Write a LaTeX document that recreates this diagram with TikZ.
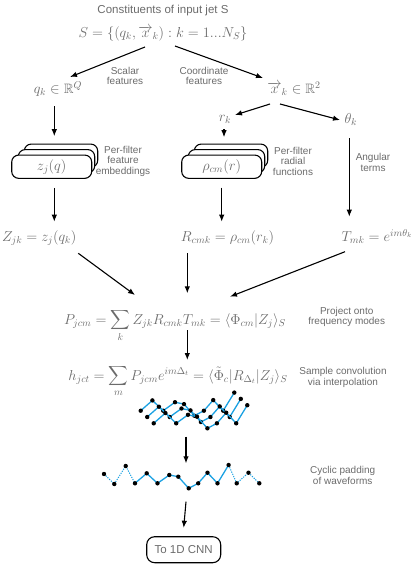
\documentclass[tikz,border=0pt]{standalone}
\usepackage{amsmath,amssymb}
\usepackage{fontspec}
\setmainfont{Liberation Sans}
\usetikzlibrary{arrows.meta,positioning}
\definecolor{labelgray}{gray}{0.42}
\definecolor{waveblue}{RGB}{27,161,226}
\tikzset{
  arr/.style={-{Latex[length=7pt,width=5.5pt]}, line width=1.1pt},
  lbl/.style={text=labelgray, font=\fontsize{10}{10.5}\selectfont, align=center, inner sep=1pt},
  eq/.style={text=labelgray, font=\fontsize{13.6}{15}\selectfont, anchor=base, inner sep=1pt},
  wave/.style={waveblue, line width=1.3pt, line join=round},
  pad wave/.style={waveblue, line width=1pt, dash pattern=on 1.2pt off 1.2pt},
}

\begin{document}
\begin{tikzpicture}[
  x=1pt, y=-1pt,
  filterbox/.style={draw, line width=1.1pt, rounded corners=7pt, fill=white,
    minimum height=23.3pt, inner sep=0pt},
  >=Latex
]
  \useasboundingbox (0,0) rectangle (415,568);

  % Input jet
  \node[lbl, font=\fontsize{11.5}{12}\selectfont] (title) at (163,11) {Constituents of input jet S};
  \node[eq] (seq) at (163,37.7) {$S=\{(q_k,\overrightarrow{x}_k):k=1...N_S\}$};

  % Features
  \node[eq] (qk) at (58,93.3) {$q_k\in\mathbb{R}^Q$};
  \node[eq] (xk) at (294,93.3) {$\overrightarrow{x}_k\in\mathbb{R}^2$};
  \node[lbl] (scalar) at (125,76) {Scalar\\features};
  \node[lbl] (coord) at (204,76) {Coordinate\\features};
  \node[eq] (rk) at (225,121.7) {$r_k$};
  \node[eq] (thk) at (350.8,123.3) {$\theta_k$};

  % Filter stacks
  \node[filterbox, minimum width=73.4pt] (zb3) at (61,155.7) {};
  \node[filterbox, minimum width=76.4pt] (zb2) at (56.5,161.2) {};
  \node[filterbox, minimum width=80pt, eq, anchor=center, inner sep=0pt] (zb) at (51.7,166.7) {$z_j(q)$};
  \node[lbl] (embed) at (123,161) {Per-filter\\feature\\embeddings};
  \node[filterbox, minimum width=73.4pt] (rb3) at (231,155.7) {};
  \node[filterbox, minimum width=76.4pt] (rb2) at (226.5,161.2) {};
  \node[filterbox, minimum width=80pt, eq, anchor=center, inner sep=0pt] (rb) at (221.7,166.7) {$\rho_{cm}(r)$};
  \node[lbl] (radial) at (293,161) {Per-filter\\radial\\functions};
  \node[lbl] (angular) at (373,162.5) {Angular\\terms};

  % Per-constituent terms
  \node[eq] (Z) at (39.2,241.7) {$Z_{jk}=z_j(q_k)$};
  \node[eq] (R) at (227.5,241.7) {$R_{cmk}=\rho_{cm}(r_k)$};
  \node[eq] (T) at (377,241.7) {$T_{mk}=e^{im\theta_k}$};

  % Projection and convolution
  \node[eq] (P) at (175,324) {$\displaystyle P_{jcm}=\sum_k Z_{jk}R_{cmk}T_{mk}=\langle\Phi_{cm}|Z_j\rangle_S$};
  \node[lbl] (project) at (346.7,317) {Project onto\\frequency modes};
  \node[eq] (h) at (178,380) {$\displaystyle h_{jct}=\sum_m P_{jcm}e^{im\Delta_t}=\langle\tilde{\Phi}_c|R_{\Delta_t}|Z_j\rangle_S$};
  \node[lbl] (sample) at (343,377.5) {Sample convolution\\via interpolation};
  \node[lbl] (cyclic) at (342.7,475.5) {Cyclic padding\\of waveforms};

  % Output
  \node[draw, line width=1.1pt, rounded corners=8pt, minimum width=74pt, minimum height=26pt,
    text=labelgray, font=\fontsize{11.5}{12}\selectfont] (cnn) at (183.7,549.7) {To 1D CNN};

  % Stacked waveforms
  \foreach \ox/\oy in {140.7/410.7, 147.2/417, 153.7/423.3}{
    \begin{scope}[shift={(\ox,\oy)}]
      \draw[wave] (0,0) -- (11.7,-10.3) -- (22.5,0) -- (34.3,-8.5) -- (43.3,-6.6)
        -- (53.7,5) -- (63.2,0) -- (72.5,-10.6) -- (82.5,0) -- (93.6,-18.1);
      \foreach \dx/\dy in {0/0, 11.7/-10.3, 22.5/0, 34.3/-8.5, 43.3/-6.6,
          53.7/5, 63.2/0, 72.5/-10.6, 82.5/0, 93.6/-18.1}
        \fill (\dx,\dy) circle (2.2pt);
    \end{scope}
  }

  % Padded waveform
  \draw[pad wave] (104,474) -- (114.3,484) -- (125.7,466) -- (135,483.3);
  \draw[wave] (135,483.3) -- (146.7,473.3) -- (157.5,483.3) -- (169.3,475) -- (178.3,476.7)
    -- (188.7,488.3) -- (198.2,483.3) -- (207.5,472.7) -- (217.5,483.3) -- (228.6,465);
  \draw[pad wave] (228.6,465) -- (236.7,483.3) -- (248.5,472.7) -- (259.3,483.3);
  \foreach \px/\py in {104/474, 114.3/484, 125.7/466, 135/483.3, 146.7/473.3, 157.5/483.3,
      169.3/475, 178.3/476.7, 188.7/488.3, 198.2/483.3, 207.5/472.7, 217.5/483.3,
      228.6/465, 236.7/483.3, 248.5/472.7, 259.3/483.3}
    \fill (\px,\py) circle (2.2pt);

  \coordinate (stackbot) at (186,436.7);
  \coordinate (padtop) at (186,463.3);
  \coordinate (padbot) at (186,501.7);

  % Connections
  \draw[arr] ([xshift=-18pt,yshift=-9.3pt]seq.base) -- ([xshift=12pt,yshift=16.3pt]qk.base);
  \draw[arr] ([xshift=12pt,yshift=-8.3pt]seq.base) -- ([xshift=-31pt,yshift=15.3pt]xk.base);
  \draw[arr] ([xshift=-3.7pt,yshift=-12.7pt]qk.base) -- ([xshift=-6.7pt,yshift=7.3pt]zb3.north);
  \draw[arr] ([xshift=-24pt,yshift=-10.7pt]xk.base) -- ([xshift=10pt,yshift=6.7pt]rk.base);
  \draw[arr] ([xshift=-14pt,yshift=-10.7pt]xk.base) -- ([xshift=-10.8pt,yshift=3.3pt]thk.base);
  \draw[arr] ([xshift=-1pt,yshift=-7.6pt]rk.base) -- ([xshift=-7pt,yshift=6.3pt]rb3.north);
  \draw[arr] ([xshift=2.6pt,yshift=-9pt]zb.south) -- ([xshift=15.1pt,yshift=20pt]Z.base);
  \draw[arr] ([yshift=-8.7pt]rb.south) -- ([xshift=-5.8pt,yshift=20pt]R.base);
  \draw[arr] ([xshift=-1.5pt,yshift=-14.7pt]thk.base) -- ([xshift=-27.7pt,yshift=25pt]T.base);
  \draw[arr] ([xshift=39.1pt,yshift=-11.6pt]Z.base) -- ([xshift=-40pt,yshift=29pt]P.base);
  \draw[arr] ([xshift=-40.2pt,yshift=-11.6pt]R.base) -- ([xshift=12.3pt,yshift=30.7pt]P.base);
  \draw[arr] ([xshift=-32pt,yshift=-10pt]T.base) -- ([xshift=55pt,yshift=27.3pt]P.base);
  \draw[arr] ([xshift=12.3pt,yshift=-6pt]P.base) -- ([xshift=9.3pt,yshift=20pt]h.base);
  \draw[arr] (stackbot) -- (padtop);
  \draw[arr] (padbot) -- ([yshift=8.4pt]cnn.north);
\end{tikzpicture}
\end{document}
